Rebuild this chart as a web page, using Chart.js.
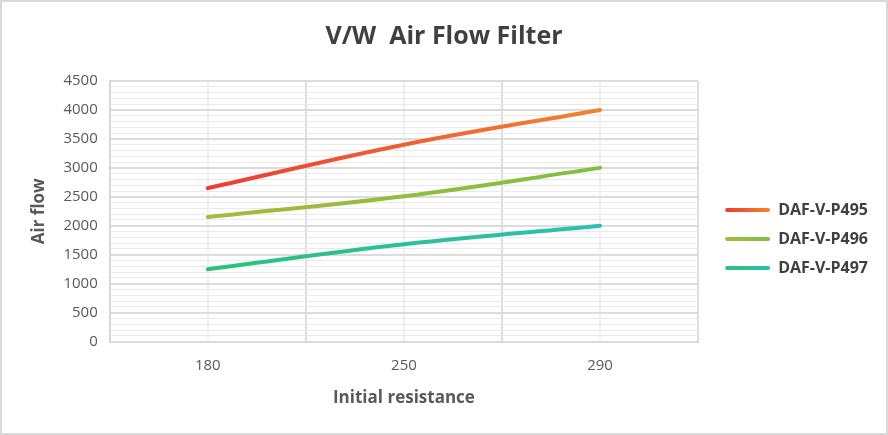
<!DOCTYPE html>
<html><head><meta charset="utf-8">
<script src="https://cdn.jsdelivr.net/npm/chart.js@4"></script>
<style>
html,body{margin:0;padding:0;background:#fff;}
#wrap{width:888px;height:435px;box-sizing:border-box;border:2px solid #d9d9d9;background:#fff;}
canvas{display:block;}
</style></head><body>
<div id="wrap"><canvas id="c" width="884" height="431"></canvas></div>
<script>
const categories = ['180', '250', '290'];
const seriesNames = ['DAF-V-P495', 'DAF-V-P496', 'DAF-V-P497'];
const p495 = [2650, 3400, 4000];
const p496 = [2150, 2510, 3000];
const p497 = [1250, 1680, 2000];
const colorsStart = ['#EE3A36', '#A9B93B', '#2CC07C'];
const colorsEnd = ['#F0852F', '#7EC041', '#2DBFB2'];

const F = "'Open Sans', 'Noto Sans', sans-serif";
const LEGEND_EXTRA = 5;     // extra gap between plot and legend
const LEGEND_SHIFT = 14;    // move legend into the right padding

function lineGrad(i) {
  return function (ctx) {
    const chart = ctx.chart;
    const xs = chart.scales && chart.scales.x;
    if (!chart.chartArea || !xs) return colorsStart[i];
    const x0 = xs.getPixelForValue(0);
    const x1 = xs.getPixelForValue(categories.length - 1);
    const g = chart.ctx.createLinearGradient(x0, 0, x1, 0);
    g.addColorStop(0, colorsStart[i]);
    g.addColorStop(1, colorsEnd[i]);
    return g;
  };
}

const legendTweaks = {
  id: 'legendTweaks',
  afterInit(chart) {
    const lg = chart.legend;
    if (!lg || lg._patched) return;
    const orig = lg.fit.bind(lg);
    lg.fit = function () { orig(); this.width += LEGEND_EXTRA; };
    lg._patched = true;
  },
  afterLayout(chart) {
    const lg = chart.legend;
    if (!lg) return;
    lg.left += LEGEND_SHIFT;
    lg.right += LEGEND_SHIFT;
  },
  beforeDraw(chart) {
    const lg = chart.legend;
    if (!lg || !lg.legendItems || !lg.legendHitBoxes) return;
    const bw = lg.options.labels.boxWidth;
    lg.legendItems.forEach((it, i) => {
      const hb = lg.legendHitBoxes[i];
      if (!hb) return;
      const g = chart.ctx.createLinearGradient(hb.left, 0, hb.left + bw, 0);
      g.addColorStop(0, colorsStart[i]);
      g.addColorStop(1, colorsEnd[i]);
      it.fillStyle = g;
      it.strokeStyle = g;
      it.lineWidth = 0;
    });
  }
};

const seriesData = [p495, p496, p497];

new Chart(document.getElementById('c'), {
  type: 'line',
  data: {
    labels: categories,
    datasets: seriesNames.map((n, i) => ({
      label: n,
      data: seriesData[i],
      borderColor: lineGrad(i),
      backgroundColor: colorsStart[i],
      borderWidth: 4,
      tension: 0.4,
      borderCapStyle: 'round',
      pointRadius: 0,
      fill: false
    }))
  },
  plugins: [legendTweaks],
  options: {
    responsive: false,
    animation: false,
    layout: { padding: { left: 17, right: 17, top: 20, bottom: 25 } },
    plugins: {
      title: {
        display: true, text: 'V/W  Air Flow Filter', color: '#404040',
        font: { family: F, size: 25, weight: 'bold' }, padding: { top: 0, bottom: 29 }
      },
      legend: {
        position: 'right',
        title: { display: true, text: ' ', font: { size: 1 }, padding: { top: 47, bottom: 0 } },
        labels: {
          boxWidth: 45, boxHeight: 4, padding: 13, color: '#404040',
          useBorderRadius: true, borderRadius: 2,
          font: { family: F, size: 16, weight: 'bold' }
        }
      },
      tooltip: { enabled: false }
    },
    scales: {
      x: {
        type: 'category', offset: true,
        grid: { offset: true, color: '#dedede', lineWidth: 2, drawTicks: false },
        border: { color: '#d9d9d9', width: 2 },
        ticks: { color: '#595959', font: { family: F, size: 15 }, padding: 15 },
        title: {
          display: true, text: 'Initial resistance', color: '#595959',
          font: { family: F, size: 17, weight: 'bold' }, padding: { top: -2, bottom: 0 }
        }
      },
      x2: {
        type: 'category', labels: categories, offset: true, position: 'top',
        grid: { offset: false, color: '#f0f0f0', lineWidth: 2, drawTicks: false },
        border: { display: false },
        ticks: { display: false }
      },
      y: {
        min: 0, max: 4500,
        ticks: {
          stepSize: 100, autoSkip: false,
          callback: v => (v % 500 === 0 ? String(v) : ''),
          color: '#595959', font: { family: F, size: 15 }, padding: 12
        },
        grid: {
          color: c => (c.tick && c.tick.value % 500 === 0 ? '#dcdcdc' : '#eaeaea'),
          lineWidth: c => (c.tick && c.tick.value % 500 === 0 ? 2 : 1),
          drawTicks: false
        },
        border: { color: '#d9d9d9', width: 2 },
        title: {
          display: true, text: 'Air flow', color: '#595959',
          font: { family: F, size: 17, weight: 'bold' }, padding: { top: 10, bottom: 2 }
        }
      }
    }
  }
});
</script>
</body></html>
